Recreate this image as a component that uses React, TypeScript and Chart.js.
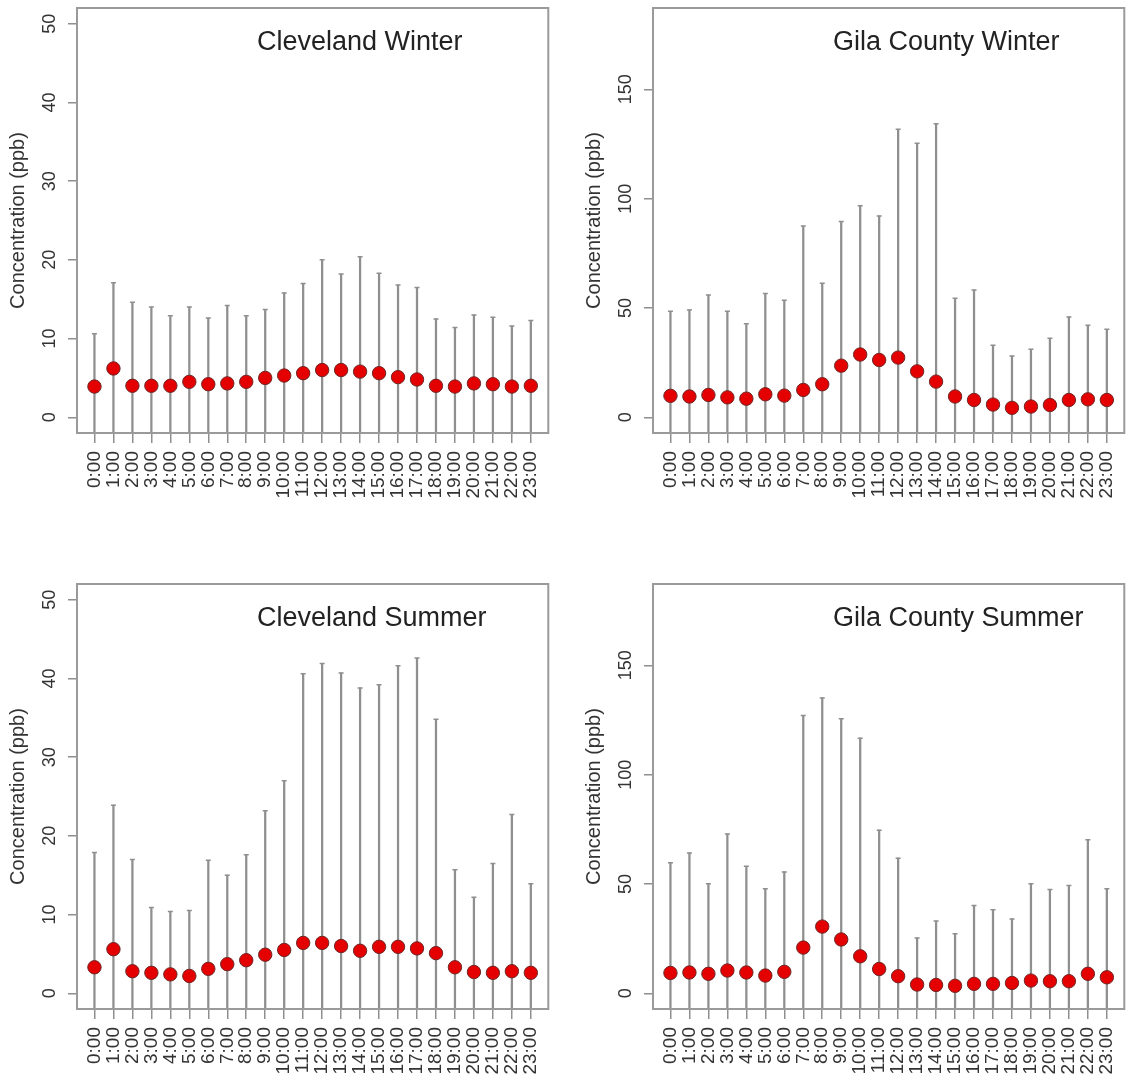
import React, { useEffect, useRef } from "react";
import { Chart, registerables } from "chart.js";

Chart.register(...registerables);

const hours = [
  "0:00", "1:00", "2:00", "3:00", "4:00", "5:00", "6:00", "7:00",
  "8:00", "9:00", "10:00", "11:00", "12:00", "13:00", "14:00", "15:00",
  "16:00", "17:00", "18:00", "19:00", "20:00", "21:00", "22:00", "23:00",
];

const clevelandWinterMean = [3.9, 6.2, 4.0, 4.0, 4.0, 4.5, 4.2, 4.3, 4.5, 5.0, 5.3, 5.6, 6.0, 6.0, 5.8, 5.6, 5.1, 4.8, 4.0, 3.9, 4.3, 4.2, 3.9, 4.0];
const clevelandWinterUpper = [10.6, 17.1, 14.6, 14.0, 12.9, 14.0, 12.6, 14.2, 12.9, 13.7, 15.8, 17.0, 20.0, 18.2, 20.4, 18.3, 16.8, 16.5, 12.5, 11.4, 13.0, 12.7, 11.6, 12.3];

const gilaWinterMean = [9.8, 9.5, 10.2, 9.1, 8.5, 10.5, 9.9, 12.5, 15.1, 23.6, 28.7, 26.2, 27.3, 21.0, 16.3, 9.5, 7.9, 5.8, 4.3, 4.9, 5.6, 7.9, 8.2, 7.9];
const gilaWinterUpper = [48.5, 49.1, 55.9, 48.5, 42.8, 56.6, 53.5, 87.5, 61.3, 89.5, 96.8, 92.1, 131.7, 125.3, 134.3, 54.4, 58.2, 32.9, 28.0, 31.1, 36.1, 45.9, 42.1, 40.2];

const clevelandSummerMean = [3.3, 5.6, 2.8, 2.6, 2.4, 2.2, 3.1, 3.7, 4.2, 4.9, 5.5, 6.4, 6.4, 6.0, 5.4, 5.9, 5.9, 5.7, 5.1, 3.3, 2.7, 2.6, 2.8, 2.6];
const clevelandSummerUpper = [17.9, 23.9, 17.0, 10.9, 10.4, 10.5, 16.9, 15.0, 17.6, 23.2, 27.0, 40.6, 41.9, 40.7, 38.8, 39.2, 41.6, 42.6, 34.8, 15.7, 12.2, 16.5, 22.7, 13.9];

const gilaSummerMean = [9.3, 9.5, 8.9, 10.4, 9.5, 8.1, 9.8, 20.9, 30.5, 24.6, 16.9, 11.1, 7.8, 4.0, 3.8, 3.4, 4.3, 4.3, 4.7, 5.8, 5.5, 5.5, 8.9, 7.3];
const gilaSummerUpper = [59.7, 64.2, 50.1, 72.9, 58.1, 47.8, 55.5, 127.0, 135.1, 125.6, 116.7, 74.6, 61.8, 25.3, 33.0, 27.2, 40.1, 38.2, 34.0, 50.1, 47.5, 49.3, 70.2, 47.8];

const clevelandTicks = [0, 10, 20, 30, 40, 50];
const gilaTicks = [0, 50, 100, 150];

const FONT = "'Liberation Sans', Arial, Helvetica, sans-serif";
const GRAY = "#8f8f8f";
const CANVAS_W = 556;
const CANVAS_H = 504;

type PanelDef = {
  title: string;
  mean: number[];
  upper: number[];
  yMin: number;
  yMax: number;
  yTicks: number[];
  tickPad: number;
  left: number;
  top: number;
};

const panels: PanelDef[] = [
  { title: "Cleveland Winter", mean: clevelandWinterMean, upper: clevelandWinterUpper, yMin: -2, yMax: 52, yTicks: clevelandTicks, tickPad: 8, left: 0, top: 0 },
  { title: "Gila County Winter", mean: gilaWinterMean, upper: gilaWinterUpper, yMin: -7.2, yMax: 187.2, yTicks: gilaTicks, tickPad: 3, left: 576, top: 0 },
  { title: "Cleveland Summer", mean: clevelandSummerMean, upper: clevelandSummerUpper, yMin: -2, yMax: 52, yTicks: clevelandTicks, tickPad: 8, left: 0, top: 576 },
  { title: "Gila County Summer", mean: gilaSummerMean, upper: gilaSummerUpper, yMin: -7.2, yMax: 187.2, yTicks: gilaTicks, tickPad: 3, left: 576, top: 576 },
];

function PanelChart({ panel }: { panel: PanelDef }) {
  const ref = useRef<HTMLCanvasElement>(null);

  useEffect(() => {
    const canvas = ref.current;
    if (!canvas) return;
    const xs = hours.map((_, i) => i + 1);
    const bars = panel.mean.map((m, i) => ({ x: xs[i], y: [2 * m - panel.upper[i], panel.upper[i]] }));
    const caps = panel.upper.map((u, i) => ({ x: xs[i], y: u }));
    const pts = panel.mean.map((m, i) => ({ x: xs[i], y: m }));

    const boxPlugin = {
      id: "boxAndTitle",
      afterDatasetsDraw(chart: any) {
        const { ctx, chartArea: a } = chart;
        ctx.save();
        ctx.strokeStyle = "#9a9a9a";
        ctx.lineWidth = 2;
        ctx.strokeRect(a.left, a.top, a.right - a.left, a.bottom - a.top);
        ctx.fillStyle = "#222";
        ctx.font = `27px ${FONT}`;
        ctx.textAlign = "left";
        ctx.textBaseline = "alphabetic";
        ctx.fillText(panel.title, a.left + 180, a.top + 42);
        ctx.restore();
      },
    };

    const chart = new Chart(canvas, {
      type: "scatter",
      data: {
        datasets: [
          {
            type: "scatter",
            data: pts,
            pointRadius: 6.7,
            pointBackgroundColor: "#e40000",
            pointBorderColor: "#6e2626",
            pointBorderWidth: 1,
            order: 0,
          } as any,
          {
            type: "scatter",
            data: caps,
            pointStyle: "line",
            pointRadius: 2.5,
            pointBorderColor: GRAY,
            pointBorderWidth: 1.5,
            order: 1,
          } as any,
          {
            type: "bar",
            data: bars,
            backgroundColor: GRAY,
            barThickness: 1.6,
            order: 2,
          } as any,
        ],
      },
      options: {
        responsive: false,
        animation: false,
        events: [],
        layout: { padding: { left: 0, top: 8, right: 5, bottom: 0 } },
        plugins: {
          legend: { display: false },
          tooltip: { enabled: false },
          title: { display: false },
        },
        scales: {
          x: {
            type: "linear",
            min: 0.08,
            max: 24.92,
            offset: false,
            afterBuildTicks: (s: any) => {
              s.ticks = hours.map((_, i) => ({ value: i + 1 }));
            },
            afterFit: (s: any) => {
              s.height = CANVAS_H - 8 - 425;
              s.paddingLeft = 0;
              s.paddingRight = 0;
            },
            grid: {
              drawOnChartArea: false,
              drawTicks: true,
              tickLength: 10,
              color: GRAY,
              lineWidth: 1.5,
              offset: false,
            },
            border: { display: false },
            ticks: {
              autoSkip: false,
              minRotation: 90,
              maxRotation: 90,
              padding: 8,
              color: "#333",
              font: { family: FONT, size: 19 },
              callback: (_v: any, index: number) => hours[index] ?? "",
            },
          },
          y: {
            type: "linear",
            min: panel.yMin,
            max: panel.yMax,
            afterBuildTicks: (s: any) => {
              s.ticks = panel.yTicks.map((v) => ({ value: v }));
            },
            afterFit: (s: any) => {
              s.width = 77;
              s.paddingTop = 0;
              s.paddingBottom = 0;
            },
            grid: {
              drawOnChartArea: false,
              drawTicks: true,
              tickLength: 9,
              color: GRAY,
              lineWidth: 1.5,
            },
            border: { display: false },
            ticks: {
              minRotation: 90,
              maxRotation: 90,
              crossAlign: "center",
              padding: panel.tickPad,
              color: "#333",
              font: { family: FONT, size: 18 },
            },
            title: {
              display: true,
              text: "Concentration (ppb)",
              color: "#333",
              font: { family: FONT, size: 20 },
              padding: { top: 6, bottom: 0 },
            },
          },
        },
      } as any,
      plugins: [boxPlugin],
    });

    return () => chart.destroy();
  }, [panel]);

  return (
    <canvas
      ref={ref}
      width={CANVAS_W}
      height={CANVAS_H}
      style={{ position: "absolute", left: panel.left, top: panel.top, width: CANVAS_W, height: CANVAS_H }}
    />
  );
}

export default function App() {
  return (
    <div
      style={{
        position: "absolute",
        left: 0,
        top: 0,
        width: 1132,
        height: 1080,
        overflow: "hidden",
        background: "#fff",
      }}
    >
      {panels.map((p) => (
        <PanelChart key={p.title} panel={p} />
      ))}
    </div>
  );
}
